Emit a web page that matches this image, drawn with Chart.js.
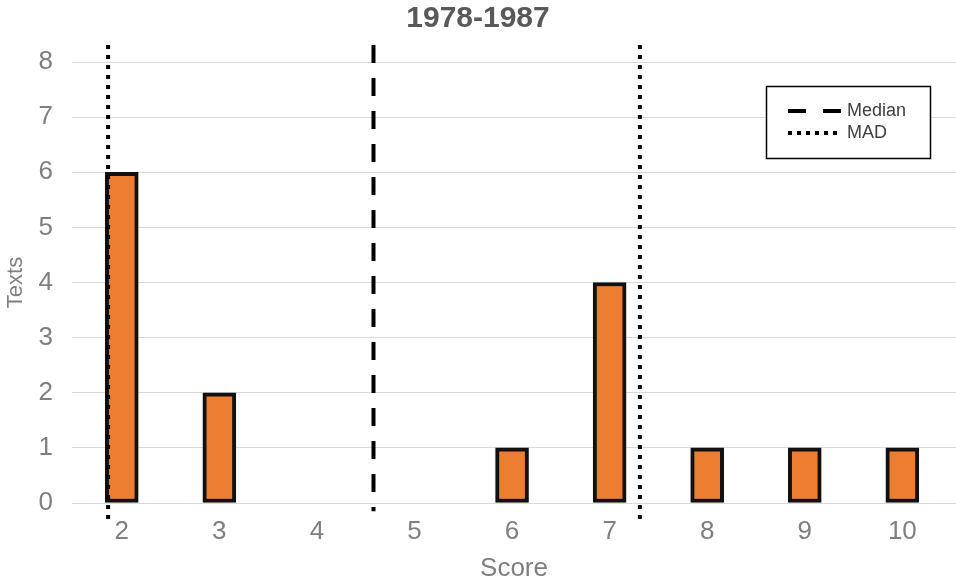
<!DOCTYPE html>
<html>
<head>
<meta charset="utf-8">
<script src="https://cdn.jsdelivr.net/npm/chart.js@4/dist/chart.umd.min.js"></script>
<style>
  body { margin: 0; background: #fff; }
  #wrap { width: 956px; height: 584px; position: relative; }
</style>
</head>
<body>
<div id="wrap"><canvas id="chart"></canvas></div>
<script>
// data
const scores = [2, 3, 4, 5, 6, 7, 8, 9, 10];
const textCounts = [6, 2, 0, 0, 1, 4, 1, 1, 1];
const medianScore = 4.58;
const madScores = [1.86, 7.31];
const yTicks = [0, 1, 2, 3, 4, 5, 6, 7, 8];

const FONT = "'Liberation Sans', Arial, sans-serif";
const GREY = "#7f7f7f";

// little boxed legend in the top right of the plot
const boxLegend = {
  id: "boxLegend",
  afterDraw(chart) {
    const ctx = chart.ctx;
    const right = chart.chartArea.right - 26;
    const left = right - 164;
    const top = 86;
    ctx.save();
    ctx.fillStyle = "#fff";
    ctx.fillRect(left, top, 164, 72);
    ctx.strokeStyle = "#000";
    ctx.lineWidth = 1.5;
    ctx.strokeRect(left + 0.5, top + 0.5, 164, 72);

    const items = [
      { text: "Median", dash: [18, 17], y: top + 25 },
      { text: "MAD", dash: [4, 5], y: top + 47 },
    ];
    items.forEach((it) => {
      ctx.beginPath();
      ctx.setLineDash(it.dash);
      ctx.lineWidth = 4;
      ctx.strokeStyle = "#000";
      ctx.moveTo(left + 22, it.y);
      ctx.lineTo(left + 75, it.y);
      ctx.stroke();
      ctx.setLineDash([]);
      ctx.fillStyle = "#404040";
      ctx.font = "18px " + FONT;
      ctx.textBaseline = "middle";
      ctx.fillText(it.text, left + 81, it.y);
    });
    ctx.restore();
  },
};

function vline(x, yBottom, yTop) {
  return [{ x: x, y: yTop }, { x: x, y: yBottom }];
}

new Chart(document.getElementById("chart"), {
  type: "bar",
  data: {
    datasets: [
      {
        type: "line",
        label: "Median",
        data: vline(medianScore, -0.15, 8.31),
        borderColor: "#000",
        borderWidth: 4,
        borderDash: [18, 15],
        pointRadius: 0,
        clip: false,
        order: 0,
      },
      {
        type: "line",
        label: "MAD",
        data: vline(madScores[0], -0.31, 8.31),
        borderColor: "#000",
        borderWidth: 4,
        borderDash: [4, 6],
        pointRadius: 0,
        clip: false,
        order: 0,
      },
      {
        type: "line",
        label: "MAD high",
        data: vline(madScores[1], -0.31, 8.31),
        borderColor: "#000",
        borderWidth: 4,
        borderDash: [4, 6],
        pointRadius: 0,
        clip: false,
        order: 0,
      },
      {
        label: "Texts",
        data: scores.map((s, i) => ({ x: s, y: textCounts[i] })),
        backgroundColor: "#ED7D31",
        borderColor: "#111",
        borderWidth: 4,
        borderSkipped: false,
        barThickness: 33,
        order: 1,
      },
    ],
  },
  options: {
    responsive: true,
    maintainAspectRatio: false,
    animation: false,
    layout: { padding: 0 },
    plugins: {
      legend: { display: false },
      tooltip: { enabled: false },
      title: {
        display: true,
        text: "1978-1987",
        color: "#595959",
        font: { family: FONT, size: 30, weight: "bold" },
        padding: { top: 1, bottom: 25 },
      },
    },
    scales: {
      x: {
        type: "linear",
        offset: false,
        min: 1.49,
        max: 10.55,
        afterBuildTicks: (scale) => {
          scale.ticks = scores.map((v) => ({ value: v }));
        },
        afterFit: (scale) => { scale.height = 81; },
        grid: { display: false },
        border: { display: false },
        ticks: {
          color: GREY,
          font: { family: FONT, size: 26 },
          padding: 5,
          autoSkip: false,
          maxRotation: 0,
        },
        title: {
          display: true,
          text: "Score",
          color: GREY,
          font: { family: FONT, size: 26 },
          padding: { top: 0, bottom: 0 },
        },
      },
      y: {
        min: 0,
        max: 8,
        afterBuildTicks: (scale) => {
          scale.ticks = yTicks.map((v) => ({ value: v }));
        },
        afterFit: (scale) => { scale.width = 72; },
        grid: { color: "#d9d9d9", lineWidth: 1, drawTicks: false },
        border: { display: false },
        ticks: {
          color: GREY,
          font: { family: FONT, size: 26 },
          padding: 19,
        },
        title: {
          display: true,
          text: "Texts",
          color: GREY,
          font: { family: FONT, size: 22 },
          padding: { top: 3, bottom: 0 },
        },
      },
    },
  },
  plugins: [boxLegend],
});
</script>
</body>
</html>
